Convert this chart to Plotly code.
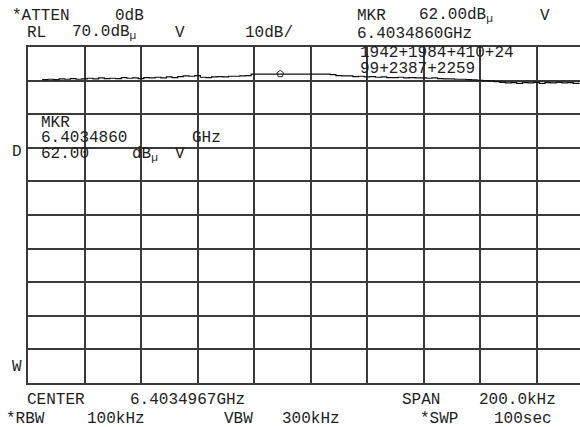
import plotly.graph_objects as go

# ---------------- data ----------------
center_ghz = 6.4034967
span_khz = 200.0
ref_level = 70.0          # dBuV (top of screen)
db_per_div = 10.0

freq_khz = [-95, -93, -91, -89, -87, -85, -83, -81, -79, -77, -75, -73, -71, -69,
            -67, -65, -63, -61, -59, -57, -55, -53, -51, -49, -47, -45, -43, -41,
            -39, -37, -35, -33, -31, -29, -27, -25, -23, -21, -19, -17, -15, -13,
            -11, -9, -7, -5, -3, -1, 1, 3, 5, 7, 9, 11, 13, 15, 17, 19, 21, 23,
            25, 27, 29, 31, 33, 35, 37, 39, 41, 43, 45, 47, 49, 51, 53, 55, 57,
            59, 61, 63, 65, 67, 69, 71, 73, 75, 77, 79, 81, 83, 85, 87, 89, 91,
            93, 95]
level_dbuv = [60.3, 60.4, 60.3, 60.5, 60.4, 60.6, 60.4, 60.5, 60.7, 60.5, 60.8,
              60.6, 60.7, 60.6, 60.9, 60.7, 60.8, 60.6, 60.9, 60.8, 61.0, 60.8,
              61.1, 60.9, 61.2, 61.4, 61.3, 61.5, 61.0, 60.9, 61.1, 61.2, 61.1,
              61.3, 61.3, 61.4, 61.5, 61.9, 61.9, 61.9, 61.9, 61.9, 61.95, 61.95,
              61.95, 61.95, 61.95, 61.95, 61.9, 61.9, 61.9, 61.8, 61.5, 61.4, 61.4,
              61.2, 61.3, 61.1, 61.2, 61.0, 61.1, 60.9, 60.9, 61.0, 60.8, 60.9,
              60.8, 60.8, 60.7, 60.8, 60.6, 60.5, 60.5, 60.4, 60.4, 60.3, 60.2,
              60.1, 60.0, 59.9, 59.7, 59.5, 59.3, 59.4, 59.2, 59.4, 59.3, 59.5,
              59.2, 59.4, 59.3, 59.5, 59.3, 59.4, 59.2, 59.4]

mkr_ghz = 6.4034860
mkr_level = 62.00

# ---------------- figure ----------------
W, H = 580, 427
L, T, B = 28, 46.5, 44
plot_w = W - L
plot_h = H - T - B
full_w = 565.0  # width of the full 10 divisions (right edge off-screen)

x_lo = -span_khz / 2
x_hi = x_lo + span_khz * plot_w / full_w
y_lo = ref_level - 10 * db_per_div

mkr_khz = (mkr_ghz - center_ghz) * 1e6

fig = go.Figure()
fig.add_trace(go.Scatter(x=freq_khz, y=level_dbuv, mode="lines",
                         line=dict(color="#111", width=1.2, shape="hv"),
                         hoverinfo="skip", showlegend=False))
fig.add_trace(go.Scatter(x=[mkr_khz], y=[mkr_level], mode="markers",
                         marker=dict(symbol="pentagon-open", size=7,
                                     color="#222", line=dict(width=1)),
                         showlegend=False))

grid_c = "#3a3a3a"
fig.update_xaxes(range=[x_lo, x_hi], dtick=span_khz / 10, tick0=x_lo,
                 showgrid=True, gridcolor=grid_c, gridwidth=1.5,
                 showline=True, linecolor=grid_c, linewidth=1.5, mirror=True,
                 showticklabels=False, ticks="", zeroline=False)
fig.update_yaxes(range=[y_lo, ref_level], dtick=db_per_div, tick0=y_lo,
                 showgrid=True, gridcolor=grid_c, gridwidth=1.5,
                 showline=True, linecolor=grid_c, linewidth=1.5, mirror=False,
                 showticklabels=False, ticks="", zeroline=False)


def px(xp):
    return (xp - L) / plot_w


def py(yp):
    return (H - B - yp) / plot_h


FONT = dict(family="Liberation Mono, DejaVu Sans Mono, monospace", size=16, color="#1e1e1e")
MU = "dB<sub>µ</sub>"

texts = [
    ("*ATTEN", 10, 15), ("0dB", 113, 15), ("MKR", 355, 15),
    ("62.00" + MU, 417, 15), ("V", 538, 15),
    ("RL", 25, 32), ("70.0" + MU, 70, 32), ("V", 173, 32), ("10dB/", 243, 32),
    ("6.4034860GHz", 355, 33),
    ("1942+1984+410+24", 358, 52.5), ("99+2387+2259", 358, 69),
    ("MKR", 39, 123), ("6.4034860", 39, 138), ("GHz", 190, 138),
    ("62.00", 39, 154), (MU, 130, 154), ("V", 173, 154),
    ("D", 10, 152), ("W", 10, 367),
    ("CENTER", 25, 400), ("6.4034967GHz", 128, 400),
    ("SPAN", 400, 400), ("200.0kHz", 477, 400),
    ("*RBW", 4, 419), ("100kHz", 85, 419), ("VBW", 222, 419),
    ("300kHz", 280, 419), ("*SWP", 418, 419), ("100sec", 492, 419),
]
for t, xx, yy in texts:
    fig.add_annotation(text=t, x=px(xx), y=py(yy), xref="paper", yref="paper",
                       xanchor="left", yanchor="middle", showarrow=False,
                       font=FONT)

fig.update_layout(width=W, height=H, margin=dict(l=L, r=0, t=T, b=B, pad=0),
                  paper_bgcolor="white", plot_bgcolor="white")

fig.write_html("out.html", config={"displayModeBar": False},
               post_script="document.body.style.margin='0';"
                           "document.body.style.overflow='hidden';")
